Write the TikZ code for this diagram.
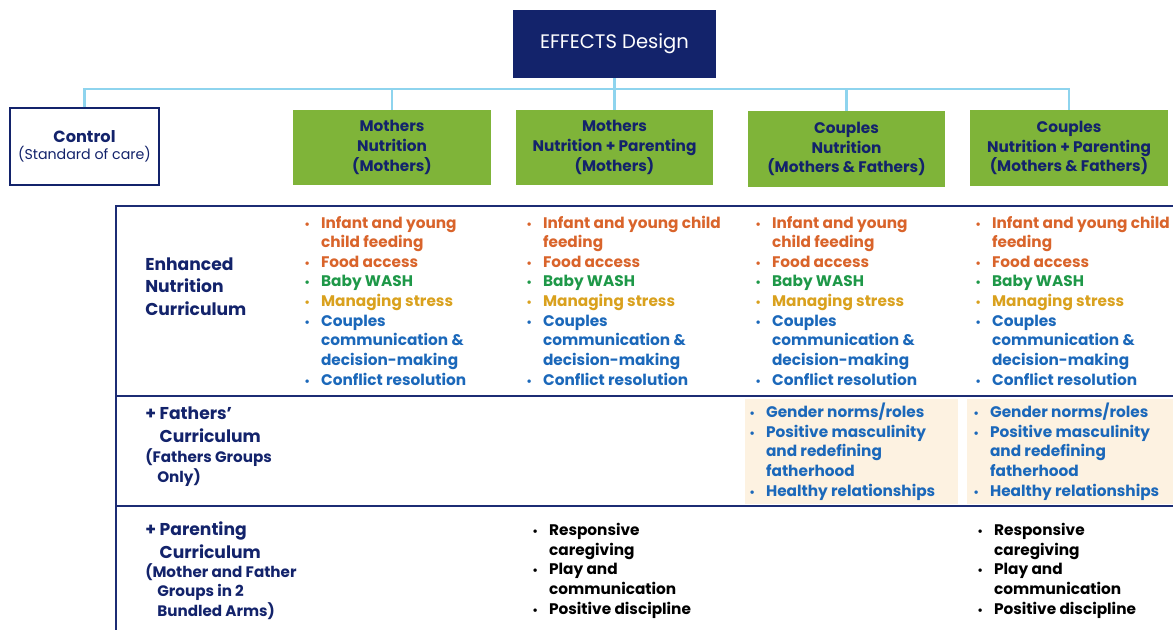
\documentclass[tikz,border=0pt]{standalone}
\usepackage{fontspec}
\setmainfont{Poppins}

\definecolor{navy}{HTML}{13236B}
\definecolor{rule}{HTML}{1C2C74}
\definecolor{armgreen}{HTML}{7FB439}
\definecolor{linkblue}{HTML}{8ED4EE}
\definecolor{feed}{HTML}{D9642B}
\definecolor{wash}{HTML}{1E9848}
\definecolor{stress}{HTML}{D9A11E}
\definecolor{comm}{HTML}{1B68BA}
\definecolor{cream}{HTML}{FDF2E1}

\newcommand\bodyfont{\fontsize{10.9}{13.94}\selectfont\bfseries}
\newcommand\headfont{\fontsize{12.2}{15.8}\selectfont\bfseries}
\newcommand\notefont{\fontsize{10.8}{13.6}\selectfont\bfseries}
\newcommand\bitem[2]{\makebox[0.42cm][l]{\color{#1}\scalebox{0.75}{\textbullet}}{\color{#1}#2}}
\newcommand\bmore[2]{\makebox[0.42cm]{}{\color{#1}#2}}

\tikzset{
  link/.style={draw=linkblue, line width=1.8pt},
  tbl/.style={draw=rule, line width=1.6pt},
  arm/.style={fill=armgreen, text=navy, font=\bodyfont, align=center,
    minimum width=4.925cm, minimum height=1.875cm, inner sep=0pt},
  lst/.style={anchor=base west, inner sep=0pt, align=left, font=\bodyfont},
  hdr/.style={anchor=base west, inner sep=0pt, align=left, text=navy}
}

\begin{document}
\begin{tikzpicture}[x=0.025cm, y=-0.025cm]
\useasboundingbox (0,0) rectangle (1173,630);

\node[fill=navy, text=white, font=\fontsize{13.9}{16}\selectfont, minimum width=5.075cm, minimum height=1.7cm, inner sep=0pt] (Design) at (614.5,44) {EFFECTS Design};

\node[draw=navy, line width=1pt, fill=white, text=navy, align=center, minimum width=3.725cm, minimum height=1.925cm, inner sep=0pt] (Control) at (84.5,146.5)
  {{\fontsize{11.5}{13.9}\selectfont\bfseries Control}\\{\fontsize{10.1}{13.9}\selectfont (Standard of care)}};
\node[arm] (Arm 1) at (392,147.5) {Mothers\\Nutrition\\(Mothers)};
\node[arm] (Arm 2) at (614.5,147.5) {Mothers\\Nutrition + Parenting\\(Mothers)};
\node[arm] (Arm 3) at (846.5,149) {Couples\\Nutrition\\(Mothers \& Fathers)};
\node[arm] (Arm 4) at (1069,148) {Couples\\Nutrition + Parenting\\(Mothers \& Fathers)};

\coordinate (Bus) at (0,89);
\draw[link] (Control.north) |- (Arm 4.north |- Bus) -- (Arm 4.north);
\draw[link] (Design.south) -- (Arm 2.north);
\draw[link] (Arm 1.north |- Bus) -- (Arm 1.north);
\draw[link] (Arm 3.north |- Bus) -- (Arm 3.north);

\fill[cream] (745,399) rectangle (958,504);
\fill[cream] (967,399) rectangle (1173,504);
\draw[tbl] (1173,206) -| (116,630);
\draw[tbl] (116,396) -- (1173,396);
\draw[tbl] (116,506) -- (1173,506);

% row headings, placed by their last line
\node[hdr, font=\headfont] (Enh Head) at (145,315) {Enhanced\\Nutrition\\Curriculum};
\node[hdr, font=\headfont] (Fath Head) at (145,442) {+ Fathers’\\\phantom{+ }Curriculum};
\node[hdr, font=\notefont] (Fath Note) at (145,482) {(Fathers Groups\\\hspace*{0.3cm}Only)};
\node[hdr, font=\headfont] (Par Head) at (145,558) {+ Parenting\\\phantom{+ }Curriculum};
\node[hdr, font=\notefont] (Par Note) at (145,616) {(Mother and Father\\\hspace*{0.3cm}Groups in 2\\\hspace*{0.3cm}Bundled Arms)};

\node[lst] (Nut 1) at (304,385) {\bitem{feed}{Infant and young}\\\bmore{feed}{child feeding}\\\bitem{feed}{Food access}\\\bitem{wash}{Baby WASH}\\\bitem{stress}{Managing stress}\\\bitem{comm}{Couples}\\\bmore{comm}{communication \&}\\\bmore{comm}{decision-making}\\\bitem{comm}{Conflict resolution}};
\node[lst] (Nut 2) at (526,385) {\bitem{feed}{Infant and young child}\\\bmore{feed}{feeding}\\\bitem{feed}{Food access}\\\bitem{wash}{Baby WASH}\\\bitem{stress}{Managing stress}\\\bitem{comm}{Couples}\\\bmore{comm}{communication \&}\\\bmore{comm}{decision-making}\\\bitem{comm}{Conflict resolution}};
\node[lst] (Nut 3) at (755,385) {\bitem{feed}{Infant and young}\\\bmore{feed}{child feeding}\\\bitem{feed}{Food access}\\\bitem{wash}{Baby WASH}\\\bitem{stress}{Managing stress}\\\bitem{comm}{Couples}\\\bmore{comm}{communication \&}\\\bmore{comm}{decision-making}\\\bitem{comm}{Conflict resolution}};
\node[lst] (Nut 4) at (975,385) {\bitem{feed}{Infant and young child}\\\bmore{feed}{feeding}\\\bitem{feed}{Food access}\\\bitem{wash}{Baby WASH}\\\bitem{stress}{Managing stress}\\\bitem{comm}{Couples}\\\bmore{comm}{communication \&}\\\bmore{comm}{decision-making}\\\bitem{comm}{Conflict resolution}};

\node[lst] (Fath 3) at (749,496) {\bitem{comm}{Gender norms/roles}\\\bitem{comm}{Positive masculinity}\\\bmore{comm}{and redefining}\\\bmore{comm}{fatherhood}\\\bitem{comm}{Healthy relationships}};
\node[lst] (Fath 4) at (973,496) {\bitem{comm}{Gender norms/roles}\\\bitem{comm}{Positive masculinity}\\\bmore{comm}{and redefining}\\\bmore{comm}{fatherhood}\\\bitem{comm}{Healthy relationships}};

\node[lst] (Par 2) at (532,614) {\bitem{black}{Responsive}\\\bmore{black}{caregiving}\\\bitem{black}{Play and}\\\bmore{black}{communication}\\\bitem{black}{Positive discipline}};
\node[lst] (Par 4) at (977,614) {\bitem{black}{Responsive}\\\bmore{black}{caregiving}\\\bitem{black}{Play and}\\\bmore{black}{communication}\\\bitem{black}{Positive discipline}};
\end{tikzpicture}
\end{document}
